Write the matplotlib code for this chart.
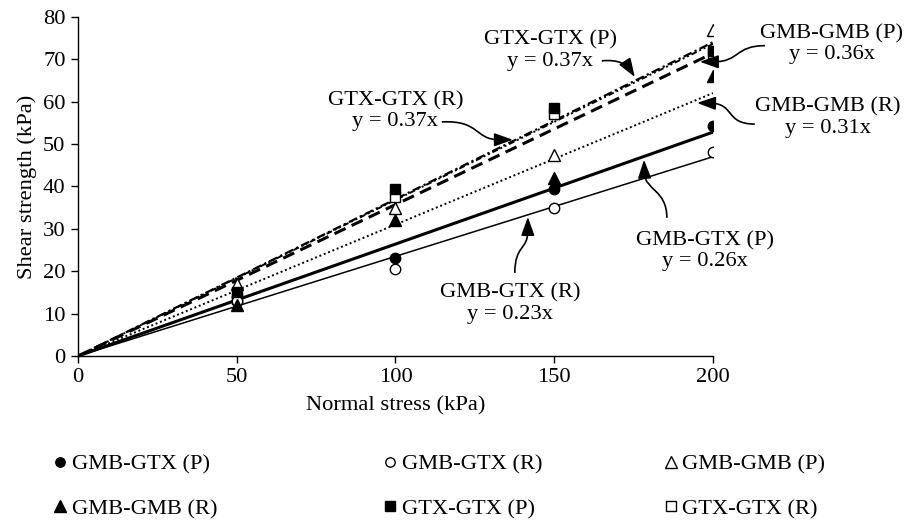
import numpy as np
import matplotlib.pyplot as plt
from matplotlib.patches import PathPatch
from matplotlib.path import Path

# data
normal_stress = [50, 100, 150, 200]
gmb_gtx_p = [14.0, 23.0, 39.5, 54.3]
gmb_gtx_r = [13.0, 20.5, 35.0, 48.0]
gmb_gmb_p = [17.0, 35.0, 47.5, 77.0]
gmb_gmb_r = [12.0, 32.0, 42.0, 66.0]
gtx_gtx_p = [15.0, 39.5, 58.5, 72.0]
gtx_gtx_r = [13.5, 37.5, 57.0, 71.5]

names = ['GMB-GTX (P)', 'GMB-GTX (R)', 'GMB-GMB (P)',
         'GMB-GMB (R)', 'GTX-GTX (P)', 'GTX-GTX (R)']
series = [gmb_gtx_p, gmb_gtx_r, gmb_gmb_p, gmb_gmb_r, gtx_gtx_p, gtx_gtx_r]
# trend line slopes (as drawn) and the labels printed on the chart
slopes = [0.264, 0.235, 0.357, 0.31, 0.37, 0.368]
eq_labels = ['y = 0.26x', 'y = 0.23x', 'y = 0.36x', 'y = 0.31x', 'y = 0.37x', 'y = 0.37x']

FS = 16.2
plt.rcParams['font.family'] = ['Liberation Serif', 'DejaVu Serif']
plt.rcParams['font.size'] = FS
plt.rcParams['axes.linewidth'] = 1.0

fig = plt.figure(figsize=(9.07, 5.21), dpi=100)
ax = fig.add_axes([0.086, 0.3167, 0.700, 0.651])

markers = ['o', 'o', '^', '^', 's', 's']
faces = ['black', 'white', 'white', 'black', 'black', 'white']
msizes = [7.5, 7.5, 9, 9, 7.5, 7.5]
mz = [4, 4, 4, 4, 5, 3]

line_styles = [
    dict(ls='-', lw=2.2),
    dict(ls='-', lw=1.1),
    dict(ls=(0, (4, 2.2)), lw=2.2),
    dict(ls=(0, (1, 1.4)), lw=1.4),
    dict(ls=(0, (4, 1.5, 1, 1.5)), lw=1.6),
    dict(ls=(0, (3, 1.5, 1, 1.5, 1, 1.5)), lw=1.4),
]

xfit = np.array([0, 200])
handles = []
for s, name, m, fc, ms, k, st, z in zip(series, names, markers, faces, msizes,
                                         slopes, line_styles, mz):
    ax.plot(xfit, k * xfit, color='black', dash_capstyle='butt', zorder=2, **st)
    h, = ax.plot(normal_stress, s, linestyle='none', marker=m, markersize=ms,
                 markerfacecolor=fc, markeredgecolor='black', markeredgewidth=1.0,
                 label=name, zorder=z)
    handles.append(h)

ax.set_xlim(0, 200)
ax.set_ylim(0, 80)
ax.set_xticks([0, 50, 100, 150, 200])
ax.set_yticks(np.arange(0, 81, 10))
ax.tick_params(direction='out', length=5, width=1.0, labelsize=FS, pad=4)
ax.spines['top'].set_visible(False)
ax.spines['right'].set_visible(False)
ax.set_xlabel('Normal stress (kPa)', fontsize=FS, labelpad=6)
ax.set_ylabel('Shear strength (kPa)', fontsize=FS, labelpad=4)

# label positions and curved leader arrows (cubic curves, data coords)
label_pos = [(197.6, 24.7), (136.1, 12.4), (237.5, 73.6),
             (236.2, 56.2), (148.7, 72.0), (100.0, 57.8)]
arrow_paths = [
    [(185.5, 32.6), (185.5, 39.2), (178.6, 39.2), (178.3, 46.3)],
    [(137.6, 19.6), (137.6, 26.2), (141.7, 25.0), (141.7, 32.8)],
    [(216.4, 73.2), (206.9, 73.2), (208.5, 69.4), (195.9, 69.4)],
    [(213.2, 54.7), (203.8, 54.7), (206.9, 59.5), (195.0, 59.7)],
    [(165.0, 69.6), (170.1, 70.1), (173.2, 68.4), (175.4, 65.8)],
    [(114.6, 55.2), (126.6, 55.7), (125.0, 51.0), (137.0, 51.0)],
]
codes = [Path.MOVETO, Path.CURVE4, Path.CURVE4, Path.CURVE4]
to_disp = ax.transData
to_data = ax.transData.inverted()
for name, eq, pos, pts in zip(names, eq_labels, label_pos, arrow_paths):
    ax.text(pos[0], pos[1], f'{name}\n{eq}', ha='center', va='center',
            fontsize=FS, linespacing=1.15, clip_on=False)
    # arrow head along the end tangent of the curve
    tip = to_disp.transform(pts[3])
    prev = to_disp.transform(pts[2])
    d = (tip - prev) / np.hypot(*(tip - prev))
    back = to_data.transform(tip - d * 14)
    curve = [pts[0], pts[1], pts[2], tuple(back)]
    ax.add_patch(PathPatch(Path(curve, codes), fill=False, ec='black', lw=1.2,
                           capstyle='butt', clip_on=False, zorder=6))
    ax.annotate('', xy=pts[3], xytext=back, annotation_clip=False, zorder=6,
                arrowprops=dict(arrowstyle='-|>,head_length=0.7,head_width=0.25',
                                mutation_scale=FS, color='black', lw=1.2,
                                shrinkA=0, shrinkB=0))

# legend as three columns placed under the plot
col_idx = [(0, 3), (1, 4), (2, 5)]
col_x = [0.059, 0.423, 0.732]
for (a, b), cx in zip(col_idx, col_x):
    fig.legend([handles[a], handles[b]], [names[a], names[b]],
               loc='upper left', bbox_to_anchor=(cx, 0.1285), frameon=False,
               fontsize=FS, handlelength=0.6, handletextpad=0.2,
               labelspacing=1.05, markerscale=0.9, borderaxespad=0, borderpad=0)

fig.savefig('out.png', dpi=100)
